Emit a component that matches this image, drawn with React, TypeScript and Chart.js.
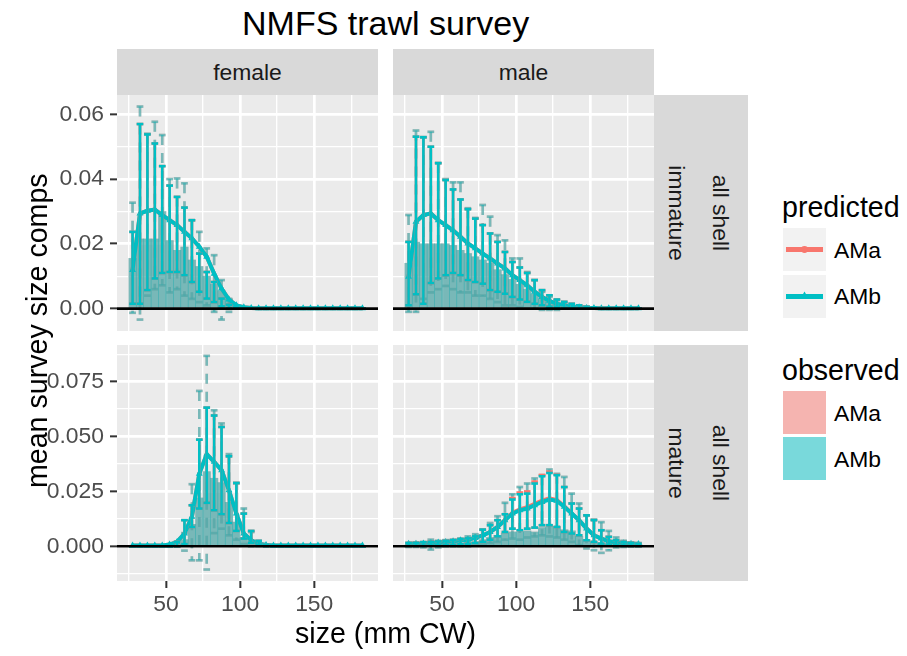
import React, { useEffect, useRef } from 'react';
import { Chart, registerables } from 'chart.js';

Chart.register(...registerables);
Chart.defaults.font.family = '"Liberation Sans", Arial, sans-serif';

const PINK = '#F8766D';
const TEAL = '#00BFC4';
const PINK_A = 'rgba(248,118,109,0.5)';
const TEAL_A = 'rgba(0,191,196,0.5)';
const FONT = '"Liberation Sans", Arial, sans-serif';

// size bins (mm CW)
const sizes = [27.5, 32.5, 37.5, 42.5, 47.5, 52.5, 57.5, 62.5, 67.5, 72.5, 77.5, 82.5, 87.5, 92.5, 97.5, 102.5,
  107.5, 112.5, 117.5, 122.5, 127.5, 132.5, 137.5, 142.5, 147.5, 152.5, 157.5, 162.5, 167.5, 172.5, 177.5, 182.5];

const xTicks = [25, 50, 75, 100, 125, 150, 175];
const xMajor = [50, 100, 150];
const yTicksTop = [0, 0.01, 0.02, 0.03, 0.04, 0.05, 0.06];
const yMajorTop = [0, 0.02, 0.04, 0.06];
const yLabelsTop = ['0.00', '0.02', '0.04', '0.06'];
const yTicksBottom = [-0.0125, 0, 0.0125, 0.025, 0.0375, 0.05, 0.0625, 0.075, 0.0875];
const yMajorBottom = [0, 0.025, 0.05, 0.075];
const yLabelsBottom = ['0.000', '0.025', '0.050', '0.075'];

// female immature
const fiObs = [0.0155, 0.0215, 0.0215, 0.0215, 0.0300, 0.0210, 0.0180, 0.0190, 0.0150, 0.0130, 0.0100, 0.0075, 0.0055, 0.0030, 0.0012, 0.0004,
  0, 0, 0, 0, 0, 0, 0, 0, 0, 0, 0, 0, 0, 0, 0, 0];
const fiPredB = [0.0119, 0.0294, 0.0302, 0.0306, 0.0289, 0.0273, 0.0258, 0.0237, 0.0217, 0.0191, 0.0160, 0.0108, 0.0062, 0.0028, 0.0010, 0.0004,
  0.0002, 0.0001, 0.0001, 0.0001, 0.0001, 0.0001, 0.0001, 0.0001, 0.0001, 0.0001, 0.0001, 0.0001, 0.0001, 0.0001, 0.0001, 0.0001];
const fiPredA = fiPredB;
const fiCiLo = [0.0015, 0.0015, 0.0057, 0.0093, 0.0110, 0.0113, 0.0113, 0.0103, 0.0082, 0.0052, 0.0031, 0.0020, 0.0007, 0.0002, 0, 0,
  0, 0, 0, 0, 0, 0, 0, 0, 0, 0, 0, 0, 0, 0, 0, 0];
const fiCiHi = [0.0237, 0.0570, 0.0538, 0.0510, 0.0440, 0.0380, 0.0345, 0.0312, 0.0273, 0.0170, 0.0113, 0.0082, 0.0031, 0.0012, 0.0004, 0.0001,
  0, 0, 0, 0, 0, 0, 0, 0, 0, 0, 0, 0, 0, 0, 0, 0];
const fiDashLo = [-0.0013, -0.0034, 0.0040, 0.0060, 0.0072, 0.0050, 0.0060, 0.0040, 0.0030, 0.0020, 0.0010, -0.0010, -0.0034, -0.0010, 0, 0,
  0, 0, 0, 0, 0, 0, 0, 0, 0, 0, 0, 0, 0, 0, 0, 0];
const fiDashHi = [0.0327, 0.0624, 0.0540, 0.0577, 0.0536, 0.0400, 0.0402, 0.0387, 0.0273, 0.0237, 0.0186, 0.0165, 0.0088, 0.0030, 0.0010, 0.0003,
  0, 0, 0, 0, 0, 0, 0, 0, 0, 0, 0, 0, 0, 0, 0, 0];

// male immature
const miObs = [0.0140, 0.0205, 0.0200, 0.0200, 0.0200, 0.0200, 0.0195, 0.0180, 0.0170, 0.0160, 0.0150, 0.0140, 0.0120, 0.0105, 0.0090, 0.0075,
  0.0060, 0.0045, 0.0030, 0.0020, 0.0012, 0.0007, 0.0004, 0.0002, 0, 0, 0, 0, 0, 0, 0, 0];
const miPredB = [0.0098, 0.0268, 0.0289, 0.0294, 0.0273, 0.0258, 0.0242, 0.0222, 0.0201, 0.0186, 0.0170, 0.0155, 0.0139, 0.0124, 0.0103, 0.0088,
  0.0072, 0.0052, 0.0036, 0.0024, 0.0015, 0.0010, 0.0006, 0.0004, 0.0002, 0.0002, 0.0001, 0.0001, 0.0001, 0.0001, 0.0001, 0.0001];
const miPredA = miPredB;
const miCiLo = [0.0010, 0.0044, 0.0015, 0.0079, 0.0093, 0.0103, 0.0110, 0.0103, 0.0088, 0.0082, 0.0077, 0.0057, 0.0052, 0.0046, 0.0036, 0.0028,
  0.0021, 0.0015, 0.0010, 0.0006, 0.0004, 0.0002, 0.0001, 0, 0, 0, 0, 0, 0, 0, 0, 0];
const miCiHi = [0.0206, 0.0531, 0.0529, 0.0500, 0.0449, 0.0397, 0.0368, 0.0337, 0.0307, 0.0278, 0.0258, 0.0232, 0.0206, 0.0175, 0.0144, 0.0127,
  0.0110, 0.0088, 0.0057, 0.0041, 0.0028, 0.0021, 0.0015, 0.0010, 0.0006, 0.0004, 0.0002, 0.0001, 0, 0, 0, 0];
const miDashLo = [-0.0010, -0.0010, 0.0030, 0.0050, 0.0060, 0.0070, 0.0060, 0.0050, 0.0050, 0.0040, 0.0040, 0.0030, 0.0020, 0.0010, 0.0010, 0.0005,
  0, 0, -0.0004, -0.0004, -0.0004, 0, 0, 0, 0, 0, 0, 0, 0, 0, 0, 0];
const miDashHi = [0.0289, 0.0550, 0.0530, 0.0546, 0.0450, 0.0400, 0.0390, 0.0390, 0.0310, 0.0280, 0.0320, 0.0284, 0.0227, 0.0211, 0.0155, 0.0155,
  0.0113, 0.0088, 0.0052, 0.0036, 0.0026, 0.0015, 0.0008, 0.0004, 0.0002, 0, 0, 0, 0, 0, 0, 0];

// female mature
const fmObs = [0, 0, 0, 0, 0, 0, 0.0010, 0.0030, 0.0100, 0.0220, 0.0340, 0.0310, 0.0290, 0.0200, 0.0110, 0.0040,
  0.0015, 0.0005, 0, 0, 0, 0, 0, 0, 0, 0, 0, 0, 0, 0, 0, 0];
const fmPredB = [0.0004, 0.0004, 0.0004, 0.0004, 0.0004, 0.0008, 0.0020, 0.0058, 0.0134, 0.0330, 0.0420, 0.0385, 0.0347, 0.0255, 0.0149, 0.0058,
  0.0027, 0.0012, 0.0006, 0.0004, 0.0004, 0.0004, 0.0004, 0.0004, 0.0004, 0.0004, 0.0004, 0.0004, 0.0004, 0.0004, 0.0004, 0.0004];
const fmPredA = fmPredB;
const fmCiLo = [0, 0, 0, 0, 0, 0, 0, 0.0010, 0.0088, 0.0172, 0.0198, 0.0164, 0.0146, 0.0106, 0.0070, 0.0035,
  0.0015, 0.0005, 0, 0, 0, 0, 0, 0, 0, 0, 0, 0, 0, 0, 0, 0];
const fmCiHi = [0, 0, 0, 0, 0, 0, 0.0020, 0.0119, 0.0187, 0.0486, 0.0632, 0.0596, 0.0544, 0.0410, 0.0289, 0.0149,
  0.0070, 0.0025, 0.0008, 0, 0, 0, 0, 0, 0, 0, 0, 0, 0, 0, 0, 0];
const fmDashLo = [0, 0, 0, 0, 0, 0, 0, -0.0020, -0.0064, -0.0064, -0.0106, 0.0060, 0.0080, 0.0050, 0.0030, 0.0010,
  0, 0, 0, 0, 0, 0, 0, 0, 0, 0, 0, 0, 0, 0, 0, 0];
const fmDashHi = [0, 0, 0, 0, 0, 0, 0, 0.0060, 0.0283, 0.0708, 0.0868, 0.0620, 0.0560, 0.0420, 0.0286, 0.0172,
  0.0065, 0.0020, 0, 0, 0, 0, 0, 0, 0, 0, 0, 0, 0, 0, 0, 0];

// male mature
const mmObs = [0.0005, 0.0005, 0.0005, 0.0008, 0.0008, 0.0010, 0.0012, 0.0015, 0.0018, 0.0022, 0.0030, 0.0040, 0.0050, 0.0060, 0.0065, 0.0065,
  0.0070, 0.0065, 0.0085, 0.0090, 0.0090, 0.0075, 0.0070, 0.0045, 0.0030, 0.0020, 0.0012, 0.0008, 0.0005, 0.0004, 0.0003, 0.0002];
const mmPredB = [0.0012, 0.0012, 0.0013, 0.0015, 0.0017, 0.0020, 0.0023, 0.0027, 0.0030, 0.0038, 0.0050, 0.0065, 0.0088, 0.0119, 0.0149, 0.0164,
  0.0172, 0.0187, 0.0202, 0.0213, 0.0207, 0.0180, 0.0149, 0.0119, 0.0081, 0.0050, 0.0035, 0.0023, 0.0017, 0.0014, 0.0012, 0.0010];
const mmPredA = [0.0012, 0.0012, 0.0013, 0.0015, 0.0017, 0.0020, 0.0023, 0.0027, 0.0030, 0.0038, 0.0050, 0.0065, 0.0088, 0.0120, 0.0152, 0.0168,
  0.0178, 0.0193, 0.0208, 0.0218, 0.0210, 0.0182, 0.0150, 0.0119, 0.0081, 0.0050, 0.0035, 0.0023, 0.0017, 0.0014, 0.0012, 0.0010];
const mmCiLo = [0.0002, 0.0002, 0.0003, 0.0004, 0.0005, 0.0006, 0.0007, 0.0009, 0.0011, 0.0014, 0.0020, 0.0030, 0.0045, 0.0065, 0.0080, 0.0073,
  0.0080, 0.0085, 0.0096, 0.0096, 0.0088, 0.0065, 0.0058, 0.0050, 0.0027, 0.0020, 0.0012, 0.0008, 0.0005, 0.0004, 0.0003, 0.0002];
const mmCiHi = [0.0015, 0.0015, 0.0018, 0.0020, 0.0022, 0.0025, 0.0028, 0.0032, 0.0036, 0.0045, 0.0076, 0.0096, 0.0119, 0.0146, 0.0213, 0.0237,
  0.0240, 0.0286, 0.0319, 0.0334, 0.0324, 0.0270, 0.0195, 0.0172, 0.0141, 0.0119, 0.0073, 0.0043, 0.0027, 0.0020, 0.0015, 0.0012];
const mmCiHiA = [0.0015, 0.0015, 0.0018, 0.0020, 0.0022, 0.0025, 0.0028, 0.0032, 0.0036, 0.0045, 0.0076, 0.0096, 0.0119, 0.0146, 0.0220, 0.0245,
  0.0250, 0.0295, 0.0325, 0.0340, 0.0326, 0.0270, 0.0195, 0.0172, 0.0141, 0.0119, 0.0073, 0.0043, 0.0027, 0.0020, 0.0015, 0.0012];
const mmDashLo = [-0.0003, -0.0003, -0.0005, -0.0015, -0.0005, 0, 0, 0, 0, 0.0005, 0.0010, 0.0015, 0.0020, 0.0030, 0.0035, 0.0030,
  0.0040, 0.0045, 0.0050, 0.0045, 0.0040, 0.0030, 0.0020, 0.0005, -0.0010, -0.0018, -0.0030, -0.0018, -0.0005, -0.0003, -0.0002, -0.0002];
const mmDashHi = [0.0015, 0.0018, 0.0020, 0.0030, 0.0025, 0.0028, 0.0030, 0.0036, 0.0045, 0.0055, 0.0075, 0.0106, 0.0137, 0.0198, 0.0237, 0.0270,
  0.0286, 0.0309, 0.0324, 0.0350, 0.0330, 0.0316, 0.0240, 0.0195, 0.0141, 0.0122, 0.0110, 0.0070, 0.0040, 0.0025, 0.0018, 0.0015];

const X_MIN = 17;
const X_MAX = 193;
const Y_TOP = [-0.00692, 0.06597];
const Y_BOTTOM = [-0.01583, 0.09174];

const COL_LEFT = [117, 393];
const ROW_TOP = [95, 345];
const PW = 261;
const PH = 236;
const YAW = 77;
const XAH = 45;

const near = (a: number, b: number) => Math.abs(a - b) < 1e-7;

type PanelCfg = {
  row: number; col: number;
  obs: number[]; predA: number[]; predB: number[];
  ciLo: number[]; ciHi: number[]; ciHiA: number[];
  dashLo: number[]; dashHi: number[];
};

const panels: PanelCfg[] = [
  { row: 0, col: 0, obs: fiObs, predA: fiPredA, predB: fiPredB, ciLo: fiCiLo, ciHi: fiCiHi, ciHiA: fiCiHi, dashLo: fiDashLo, dashHi: fiDashHi },
  { row: 0, col: 1, obs: miObs, predA: miPredA, predB: miPredB, ciLo: miCiLo, ciHi: miCiHi, ciHiA: miCiHi, dashLo: miDashLo, dashHi: miDashHi },
  { row: 1, col: 0, obs: fmObs, predA: fmPredA, predB: fmPredB, ciLo: fmCiLo, ciHi: fmCiHi, ciHiA: fmCiHi, dashLo: fmDashLo, dashHi: fmDashHi },
  { row: 1, col: 1, obs: mmObs, predA: mmPredA, predB: mmPredB, ciLo: mmCiLo, ciHi: mmCiHi, ciHiA: mmCiHiA, dashLo: mmDashLo, dashHi: mmDashHi },
];

function drawErr(chart: any, lo: number[], hi: number[], color: string, width: number, dash: number[]) {
  const ctx = chart.ctx;
  const xs = chart.scales.x;
  const ys = chart.scales.y;
  ctx.save();
  const a = chart.chartArea;
  ctx.beginPath();
  ctx.rect(a.left, a.top, a.right - a.left, a.bottom - a.top);
  ctx.clip();
  ctx.strokeStyle = color;
  ctx.lineWidth = width;
  ctx.lineCap = 'butt';
  ctx.setLineDash(dash);
  for (let i = 0; i < sizes.length; i++) {
    const x = xs.getPixelForValue(sizes[i]);
    const xl = xs.getPixelForValue(sizes[i] - 2.25);
    const xr = xs.getPixelForValue(sizes[i] + 2.25);
    const yl = ys.getPixelForValue(lo[i]);
    const yh = ys.getPixelForValue(hi[i]);
    ctx.beginPath(); ctx.moveTo(xl, yh); ctx.lineTo(xr, yh); ctx.stroke();
    ctx.beginPath(); ctx.moveTo(x, yh); ctx.lineTo(x, yl); ctx.stroke();
    ctx.beginPath(); ctx.moveTo(xl, yl); ctx.lineTo(xr, yl); ctx.stroke();
  }
  ctx.restore();
}

function Panel({ cfg }: { cfg: PanelCfg }) {
  const ref = useRef<HTMLCanvasElement | null>(null);
  const showY = cfg.col === 0;
  const showX = cfg.row === 1;
  const w = PW + (showY ? YAW : 0);
  const h = PH + (showX ? XAH : 0);
  const left = COL_LEFT[cfg.col] - (showY ? YAW : 0);
  const top = ROW_TOP[cfg.row];

  useEffect(() => {
    const yr = cfg.row === 0 ? Y_TOP : Y_BOTTOM;
    const yTicks = cfg.row === 0 ? yTicksTop : yTicksBottom;
    const yMajor = cfg.row === 0 ? yMajorTop : yMajorBottom;
    const yLabels = cfg.row === 0 ? yLabelsTop : yLabelsBottom;
    const isYMajor = (v: number) => yMajor.some((m) => near(m, v));
    const isXMajor = (v: number) => xMajor.some((m) => near(m, v));
    const pts = (arr: number[]) => sizes.map((s, i) => ({ x: s, y: arr[i] }));

    const plugin = {
      id: 'panelDeco',
      beforeDraw(chart: any) {
        const a = chart.chartArea;
        const ctx = chart.ctx;
        ctx.save();
        ctx.fillStyle = '#EBEBEB';
        ctx.fillRect(a.left, a.top, a.right - a.left, a.bottom - a.top);
        ctx.restore();
      },
      beforeDatasetsDraw(chart: any) {
        drawErr(chart, cfg.dashLo, cfg.dashHi, PINK_A, 2.6, [10, 8]);
        drawErr(chart, cfg.dashLo, cfg.dashHi, TEAL_A, 2.6, [10, 8]);
      },
      afterDatasetsDraw(chart: any) {
        drawErr(chart, cfg.ciLo, cfg.ciHiA, PINK, 2.6, []);
        drawErr(chart, cfg.ciLo, cfg.ciHi, TEAL, 2.6, []);
        const a = chart.chartArea;
        const ctx = chart.ctx;
        const y0 = chart.scales.y.getPixelForValue(0);
        ctx.save();
        ctx.strokeStyle = '#000000';
        ctx.lineWidth = 2.7;
        ctx.beginPath();
        ctx.moveTo(a.left, y0);
        ctx.lineTo(a.right, y0);
        ctx.stroke();
        ctx.restore();
      },
    };

    const chart = new Chart(ref.current as HTMLCanvasElement, {
      type: 'bar',
      data: {
        datasets: [
          {
            type: 'line', label: 'AMb predicted', data: pts(cfg.predB), borderColor: TEAL, backgroundColor: TEAL,
            borderWidth: 4, pointStyle: 'triangle', pointRadius: 4, pointBorderWidth: 0, tension: 0, order: 0,
          } as any,
          {
            type: 'line', label: 'AMa predicted', data: pts(cfg.predA), borderColor: PINK, backgroundColor: PINK,
            borderWidth: 4, pointStyle: 'circle', pointRadius: 2, pointBorderWidth: 0, tension: 0, order: 1,
          } as any,
          {
            type: 'bar', label: 'AMb observed', data: pts(cfg.obs), backgroundColor: TEAL_A, borderWidth: 0,
            grouped: false, barPercentage: 1, categoryPercentage: 1, order: 2,
          } as any,
          {
            type: 'bar', label: 'AMa observed', data: pts(cfg.obs), backgroundColor: PINK_A, borderWidth: 0,
            grouped: false, barPercentage: 1, categoryPercentage: 1, order: 3,
          } as any,
        ],
      },
      options: {
        responsive: false,
        animation: false,
        events: [],
        layout: { padding: 0, autoPadding: false },
        plugins: { legend: { display: false }, tooltip: { enabled: false }, title: { display: false } },
        scales: {
          x: {
            type: 'linear', min: X_MIN, max: X_MAX, offset: false,
            afterBuildTicks: (s: any) => { s.ticks = xTicks.map((v) => ({ value: v })); },
            afterFit: (s: any) => { s.height = showX ? XAH : 0; s.paddingLeft = 0; s.paddingRight = 0; s.paddingTop = 0; s.paddingBottom = 0; },
            ticks: {
              display: showX, autoSkip: false, maxRotation: 0, color: '#4D4D4D', padding: 3,
              font: { size: 22.9, family: FONT },
              callback: (v: any) => (isXMajor(Number(v)) ? String(v) : ''),
            },
            grid: {
              offset: false, color: '#FFFFFF',
              lineWidth: (c: any) => (c.tick && isXMajor(c.tick.value) ? 2.7 : 1.35),
              drawTicks: showX, tickLength: 7, tickWidth: 2,
              tickColor: (c: any) => (c.tick && isXMajor(c.tick.value) ? '#333333' : 'rgba(0,0,0,0)'),
            },
            border: { display: false },
          },
          y: {
            type: 'linear', min: yr[0], max: yr[1],
            afterBuildTicks: (s: any) => { s.ticks = yTicks.map((v) => ({ value: v })); },
            afterFit: (s: any) => { s.width = showY ? YAW : 0; s.paddingLeft = 0; s.paddingRight = 0; s.paddingTop = 0; s.paddingBottom = 0; },
            ticks: {
              display: showY, autoSkip: false, color: '#4D4D4D', padding: 6,
              font: { size: 22.9, family: FONT },
              callback: (v: any) => {
                const idx = yMajor.findIndex((m) => near(m, Number(v)));
                return idx >= 0 ? yLabels[idx] : '';
              },
            },
            grid: {
              color: '#FFFFFF',
              lineWidth: (c: any) => (c.tick && isYMajor(c.tick.value) ? 2.7 : 1.35),
              drawTicks: showY, tickLength: 7, tickWidth: 2,
              tickColor: (c: any) => (c.tick && isYMajor(c.tick.value) ? '#333333' : 'rgba(0,0,0,0)'),
            },
            border: { display: false },
          },
        },
      } as any,
      plugins: [plugin],
    });
    return () => chart.destroy();
  }, []);

  return (
    <canvas
      ref={ref}
      width={w}
      height={h}
      style={{ position: 'absolute', left, top, width: w, height: h }}
    />
  );
}

const abs = (s: React.CSSProperties): React.CSSProperties => ({ position: 'absolute', ...s });

export default function App() {
  const stripBg = '#D9D9D9';
  const stripText: React.CSSProperties = { fontFamily: FONT, fontSize: 22.9, color: '#1A1A1A', textAlign: 'center', whiteSpace: 'nowrap' };
  const rot = (cx: number, cy: number, text: string, angle: number, size: number, color: string, boxH: number) => (
    <div style={abs({
      left: cx - 150, top: cy - boxH / 2, width: 300, height: boxH, lineHeight: boxH + 'px',
      transform: `rotate(${angle}deg)`, transformOrigin: '50% 50%', textAlign: 'center',
      fontFamily: FONT, fontSize: size, color, whiteSpace: 'nowrap',
    })}>{text}</div>
  );
  const legendLabel = (top: number, text: string) => (
    <div style={abs({ left: 834, top: top - 14, height: 28, lineHeight: '28px', fontFamily: FONT, fontSize: 22.9, color: '#000' })}>{text}</div>
  );
  return (
    <div style={abs({ left: 0, top: 0, width: 907, height: 656, background: '#FFFFFF', overflow: 'hidden' })}>
      {/* title */}
      <div style={abs({ left: 185.6, top: 6, width: 400, height: 34, lineHeight: '34px', textAlign: 'center', fontFamily: FONT, fontSize: 34, color: '#000' })}>NMFS trawl survey</div>

      {/* top strips */}
      <div style={abs({ left: COL_LEFT[0], top: 49, width: PW, height: 46, background: stripBg, lineHeight: '46px', ...stripText })}>female</div>
      <div style={abs({ left: COL_LEFT[1], top: 49, width: PW, height: 46, background: stripBg, lineHeight: '46px', ...stripText })}>male</div>

      {/* right strips */}
      {[0, 1].map((r) => (
        <div key={'rs' + r} style={abs({ left: 654, top: ROW_TOP[r], width: 94, height: PH, background: stripBg })} />
      ))}
      {rot(677, ROW_TOP[0] + PH / 2, 'immature', 90, 22.9, '#1A1A1A', 30)}
      {rot(721, ROW_TOP[0] + PH / 2, 'all shell', 90, 22.9, '#1A1A1A', 30)}
      {rot(677, ROW_TOP[1] + PH / 2, 'mature', 90, 22.9, '#1A1A1A', 30)}
      {rot(721, ROW_TOP[1] + PH / 2, 'all shell', 90, 22.9, '#1A1A1A', 30)}

      {panels.map((p, i) => <Panel key={i} cfg={p} />)}

      {/* axis titles */}
      {rot(37, 338, 'mean survey size comps', -90, 28.6, '#000', 34)}
      <div style={abs({ left: 185.6, top: 616, width: 400, height: 34, lineHeight: '34px', textAlign: 'center', fontFamily: FONT, fontSize: 28.6, color: '#000' })}>size (mm CW)</div>

      {/* legend: predicted */}
      <div style={abs({ left: 782, top: 190, height: 34, lineHeight: '34px', fontFamily: FONT, fontSize: 28.6, color: '#000', whiteSpace: 'nowrap' })}>predicted</div>
      <svg width={43} height={43} style={abs({ left: 783, top: 228 })}>
        <rect x={0} y={0} width={43} height={43} fill="#F2F2F2" />
        <line x1={3} x2={40} y1={21.5} y2={21.5} stroke={PINK} strokeWidth={5} />
        <circle cx={21.5} cy={21.5} r={3.4} fill={PINK} />
      </svg>
      <svg width={43} height={43} style={abs({ left: 783, top: 274.5 })}>
        <rect x={0} y={0} width={43} height={43} fill="#F2F2F2" />
        <line x1={3} x2={40} y1={21.5} y2={21.5} stroke={TEAL} strokeWidth={5} />
        <polygon points="21.5,16.5 25.8,24 17.2,24" fill={TEAL} />
      </svg>
      {legendLabel(250, 'AMa')}
      {legendLabel(296, 'AMb')}

      {/* legend: observed */}
      <div style={abs({ left: 782, top: 353, height: 34, lineHeight: '34px', fontFamily: FONT, fontSize: 28.6, color: '#000', whiteSpace: 'nowrap' })}>observed</div>
      <div style={abs({ left: 783, top: 391, width: 43, height: 43, background: '#F2F2F2' })}>
        <div style={{ width: 43, height: 43, background: PINK_A }} />
      </div>
      <div style={abs({ left: 783, top: 437, width: 43, height: 43, background: '#F2F2F2' })}>
        <div style={{ width: 43, height: 43, background: TEAL_A }} />
      </div>
      {legendLabel(413, 'AMa')}
      {legendLabel(459, 'AMb')}
    </div>
  );
}
